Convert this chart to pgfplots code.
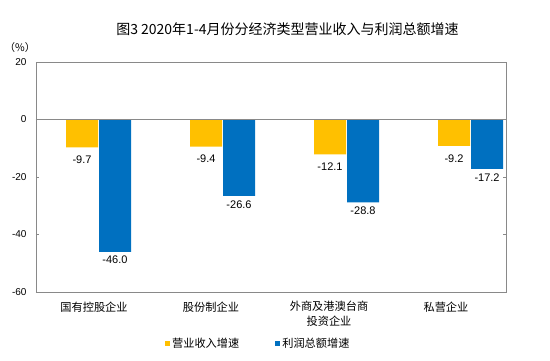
\documentclass[border=0pt]{standalone}
\usepackage{fontspec}
\setmainfont{Liberation Sans}
\newfontfamily\cjk{Noto Sans CJK SC}
\usepackage{pgfplots}
\pgfplotsset{compat=1.18}
\definecolor{cyel}{HTML}{FFC000}
\definecolor{cblu}{HTML}{0070C0}
\definecolor{cax}{HTML}{898989}
\begin{document}
\begin{tikzpicture}
\path[use as bounding box] (0,0) rectangle (550pt,360pt);
\begin{axis}[
  at={(36pt,68pt)}, anchor=south west,
  scale only axis, width=470pt, height=230pt,
  xmin=-0.504, xmax=3.286, ymin=-60, ymax=20,
  ytick={-60,-40,-20,0,20},
  xtick={-0.036,0.907,1.859,2.802},
  xticklabels={国有控股企业,股份制企业,{外商及港澳台商\\投资企业},私营企业},
  xticklabel style={align=center, font=\cjk\fontsize{11.2}{15}\selectfont, yshift=-3pt},
  x tick style={draw=none},
  y tick style={cax, line width=0.6pt},
  tick align=inside, major tick length=3pt,
  yticklabel style={font=\fontsize{10}{12}\selectfont, xshift=-6pt},
  /pgf/number format/assume math mode=true,
  axis line style={cax, line width=0.8pt},
  ybar=1pt, bar width=32pt,
  nodes near coords={\pgfmathprintnumber[fixed,fixed zerofill,precision=1,assume math mode=true]{\pgfplotspointmeta}},
  nodes near coords style={font=\fontsize{11}{13}\selectfont, anchor=north, black},
  title={\cjk 图3\ 2020年1-4月份分经济类型营业收入与利润总额增速},
  title style={at={(rel axis cs:0.535,1.117)}, anchor=center, font=\fontsize{14}{16}\selectfont},
  legend style={at={(rel axis cs:0.473,-0.222)}, anchor=center, draw=none, font=\cjk\fontsize{11.2}{13}\selectfont, legend columns=2, /tikz/every even column/.append style={column sep=34pt}, inner sep=0pt},
  legend image code/.code={\fill[#1] (0pt,-2.5pt) rectangle (5pt,2.5pt);},
  clip=false,
]
\addplot[fill=cyel, draw=none, every node near coord/.append style={yshift=-5pt}] coordinates {(0,-9.7) (1,-9.4) (2,-12.1) (3,-9.2)};
\addplot[fill=cblu, draw=none, every node near coord/.append style={yshift=-1pt}] coordinates {(0,-46.0) (1,-26.6) (2,-28.8) (3,-17.2)};
\legend{营业收入增速,利润总额增速}
\draw[cax, line width=0.8pt] (axis cs:-0.504,0) -- (axis cs:3.286,0);
\node[font=\cjk\fontsize{10.5}{12}\selectfont] at (rel axis cs:-0.034,1.065) {（\%）};
\end{axis}
\end{tikzpicture}
\end{document}
